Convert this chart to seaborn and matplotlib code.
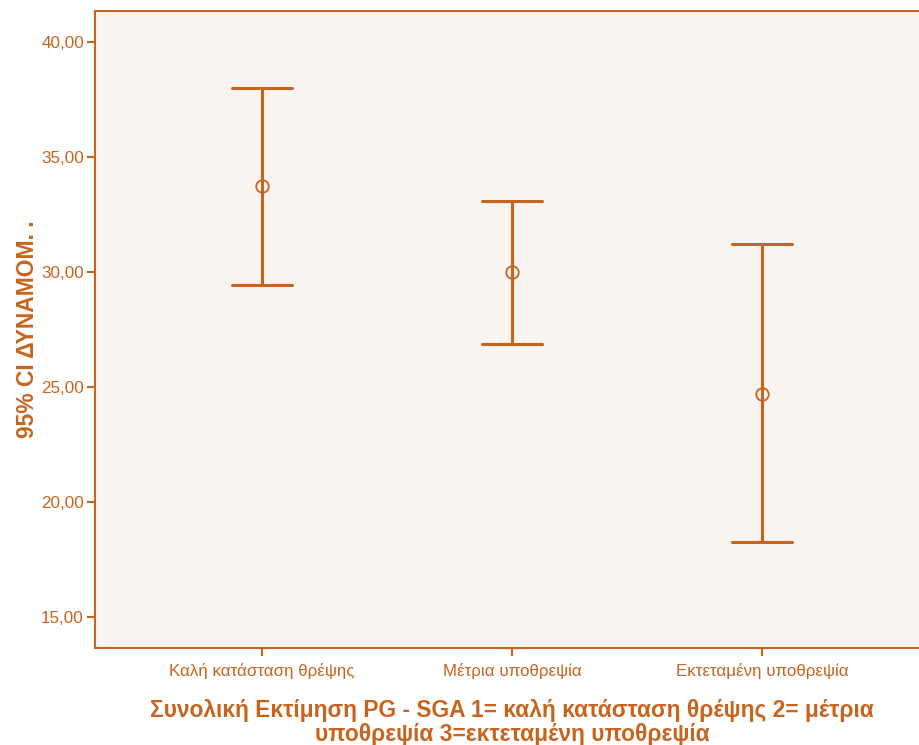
import pandas as pd
import numpy as np
import matplotlib.pyplot as plt
import seaborn as sns
from matplotlib.ticker import FuncFormatter

# χρώματα τύπου SPSS
ORANGE = '#C8641E'
BG = '#F9F4F0'

# δεδομένα: κατηγορίες και 95% CI (κάτω όριο, μέσος όρος, άνω όριο)
categories = ['Καλή κατάσταση θρέψης', 'Μέτρια υποθρεψία', 'Εκτεταμένη υποθρεψία']
ci_lower = [29.42, 26.85, 18.27]
means = [33.73, 29.98, 24.71]
ci_upper = [38.00, 33.08, 31.20]
y_ticks = [15, 20, 25, 30, 35, 40]

# long format: median = μέσος, min/max = όρια
df = pd.DataFrame({
    'group': np.repeat(categories, 3),
    'value': np.ravel(np.column_stack([ci_lower, means, ci_upper])),
})

sns.set_theme(style='white')
plt.rcParams['font.family'] = ['Liberation Sans', 'DejaVu Sans']

fig = plt.figure(figsize=(9.2, 7.45), dpi=100)
ax = fig.add_axes([0.1033, 0.1302, 0.8967, 0.8550])
ax.set_facecolor(BG)

sns.pointplot(data=df, x='group', y='value', order=categories,
              estimator='median', errorbar=('pi', 100),
              linestyles='none', color=ORANGE, capsize=0.24,
              markers='o', markersize=9, markerfacecolor='none',
              markeredgewidth=1.3, err_kws={'linewidth': 2.2}, ax=ax)

ax.set_xlim(-0.668, 2.632)
ax.set_ylim(13.65, 41.35)
ax.set_yticks(y_ticks)
ax.yaxis.set_major_formatter(FuncFormatter(lambda v, p: f'{v:.2f}'.replace('.', ',')))

for side in ['left', 'bottom', 'top']:
    ax.spines[side].set_color(ORANGE)
    ax.spines[side].set_linewidth(1.5)
ax.spines['right'].set_visible(False)

ax.tick_params(axis='both', direction='out', length=6, width=1.5,
               color=ORANGE, labelcolor=ORANGE, bottom=True, left=True)
ax.tick_params(axis='y', labelsize=12.3, pad=2)
ax.tick_params(axis='x', labelsize=12.2, pad=5)

ax.set_ylabel('95% CI ΔΥΝΑΜΟΜ. .', color=ORANGE, fontsize=16.5,
              fontweight='bold')
ax.yaxis.set_label_coords(-0.068, 0.5, transform=ax.transAxes)
ax.set_xlabel('Συνολική Εκτίμηση PG - SGA 1= καλή κατάσταση θρέψης 2= μέτρια\n'
              'υποθρεψία 3=εκτεταμένη υποθρεψία',
              color=ORANGE, fontsize=16.4, fontweight='bold',
              linespacing=1.05)
ax.xaxis.set_label_coords(0.5055, -0.080, transform=ax.transAxes)
ax.xaxis.label.set_va('top')

fig.savefig('out.png', dpi=100, facecolor='white')
